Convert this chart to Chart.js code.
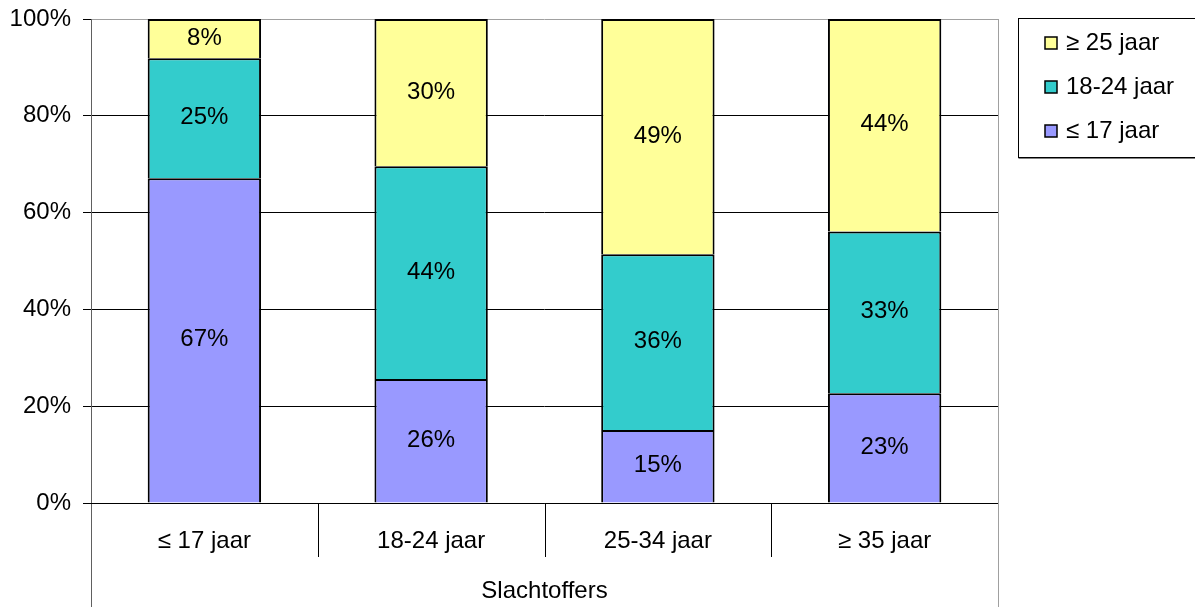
<!DOCTYPE html>
<html>
<head>
<meta charset="utf-8">
<script src="https://cdn.jsdelivr.net/npm/chart.js@4"></script>
<style>
html,body{margin:0;padding:0;background:#fff;}
#c{display:block;}
</style>
</head>
<body>
<canvas id="c" width="1195" height="607"></canvas>
<script>
const categories = ["\u2264 17 jaar", "18-24 jaar", "25-34 jaar", "\u2265 35 jaar"];
const seriesNames = ["\u2264 17 jaar", "18-24 jaar", "\u2265 25 jaar"];
const upTo17 = [67.1, 25.6, 15.1, 22.7];
const age18to24 = [24.8, 44.0, 36.3, 33.4];
const age25plus = [8.1, 30.4, 48.6, 43.9];
const colors = ["#9999FF", "#33CCCC", "#FFFF99"];
const yTicks = [0, 20, 40, 60, 80, 100];
const axisTitle = "Slachtoffers";

const FONT = "Liberation Sans, Arial, sans-serif";
const FS = 24;

const decor = {
  id: "decor",
  afterDraw(chart) {
    const ctx = chart.ctx;
    const a = chart.chartArea;
    const xs = chart.scales.x;
    ctx.save();
    ctx.strokeStyle = "#000";
    ctx.lineWidth = 1;
    for (let i = 0; i < categories.length - 1; i++) {
      const px = Math.round((xs.getPixelForValue(i) + xs.getPixelForValue(i + 1)) / 2) + 0.5;
      ctx.beginPath(); ctx.moveTo(px, a.bottom); ctx.lineTo(px, a.bottom + 54); ctx.stroke();
    }
    ctx.strokeStyle = "#a0a0a0";
    ctx.beginPath(); ctx.moveTo(Math.round(a.right) + 0.5, a.top); ctx.lineTo(Math.round(a.right) + 0.5, chart.height); ctx.stroke();
    ctx.strokeStyle = "#606060";
    ctx.beginPath(); ctx.moveTo(Math.round(a.left) + 0.5, a.top); ctx.lineTo(Math.round(a.left) + 0.5, chart.height); ctx.stroke();
    ctx.strokeStyle = "#000";
    ctx.beginPath(); ctx.moveTo(a.left, Math.round(a.bottom) + 0.5); ctx.lineTo(a.right, Math.round(a.bottom) + 0.5); ctx.stroke();

    ctx.font = FS + "px " + FONT;
    ctx.fillStyle = "#000";
    ctx.textAlign = "center";
    ctx.textBaseline = "middle";
    chart.data.datasets.forEach((ds, di) => {
      const meta = chart.getDatasetMeta(di);
      meta.data.forEach((bar, i) => {
        const yc = (bar.y + bar.base) / 2;
        ctx.fillText(Math.round(ds.data[i]) + "%", bar.x, yc - 0.5);
      });
    });

    const lx = 1018.5, ly = 18.5, lw = 190, lh = 139;
    ctx.strokeStyle = "#000";
    ctx.lineWidth = 1;
    ctx.strokeRect(lx, ly, lw, lh);
    ctx.strokeStyle = "#808080";
    ctx.beginPath(); ctx.moveTo(lx, ly + lh + 1); ctx.lineTo(lx + lw, ly + lh + 1); ctx.stroke();
    ctx.textAlign = "left";
    const order = [2, 1, 0];
    order.forEach((di, k) => {
      const ds = chart.data.datasets[di];
      const cy = 43 + k * 44;
      ctx.fillStyle = ds.backgroundColor;
      ctx.fillRect(1045, cy - 6, 12, 12);
      ctx.strokeStyle = "#000";
      ctx.lineWidth = 1.5;
      ctx.strokeRect(1045, cy - 6, 12, 12);
      ctx.fillStyle = "#000";
      ctx.fillText(ds.label, 1066, cy);
    });
    ctx.restore();
  }
};

const seriesData = [upTo17, age18to24, age25plus];
new Chart(document.getElementById("c"), {
  type: "bar",
  data: {
    labels: categories,
    datasets: seriesData.map((d, i) => ({
      label: seriesNames[i],
      data: d,
      backgroundColor: colors[i],
      borderColor: "#000",
      borderWidth: 2,
      categoryPercentage: 1.0,
      barPercentage: 0.5
    }))
  },
  options: {
    responsive: false,
    animation: false,
    devicePixelRatio: 1,
    layout: { padding: { top: 19, right: 197, left: 0, bottom: 0 } },
    plugins: { legend: { display: false }, tooltip: { enabled: false } },
    scales: {
      x: {
        stacked: true,
        grid: { display: false, drawTicks: false },
        border: { display: false },
        ticks: { color: "#000", font: { family: FONT, size: FS }, padding: 24, maxRotation: 0 },
        title: { display: true, text: axisTitle, color: "#000", font: { family: FONT, size: FS }, padding: { top: 0, bottom: 1 } },
        afterFit(s) { s.height = 104; s.paddingLeft = 0; s.paddingRight = 0; }
      },
      y: {
        stacked: true,
        min: 0, max: 100,
        afterBuildTicks(s) { s.ticks = yTicks.map(v => ({ value: v })); },
        ticks: { color: "#000", font: { family: FONT, size: FS }, padding: 12, callback: v => v + "%" },
        grid: {
          color: ctx => (ctx.tick && ctx.tick.value === 100 ? "#a0a0a0" : "#000"),
          tickColor: "#000",
          tickLength: 8,
          lineWidth: 1
        },
        border: { display: false },
        afterFit(s) { s.width = 91; s.paddingTop = 0; s.paddingBottom = 0; }
      }
    }
  },
  plugins: [decor]
});
</script>
</body>
</html>
